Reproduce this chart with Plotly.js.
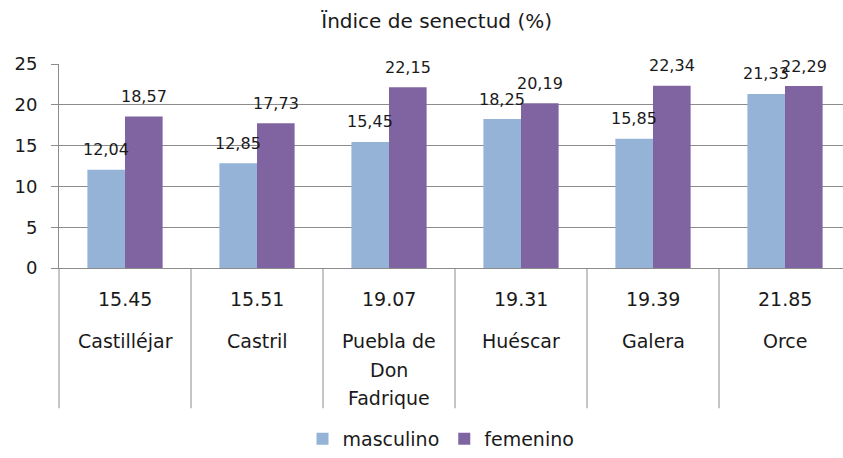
<!DOCTYPE html>
<html>
<head>
<meta charset="utf-8">
<script src="https://cdn.plot.ly/plotly-3.0.1.min.js"></script>
<style>html,body{margin:0;padding:0;background:#fff;overflow:hidden}</style>
</head>
<body>
<div id="chart" style="width:843px;height:458px"></div>
<script>
// ---- data ----
const categories = ["Castilléjar", "Castril", "Puebla de<br>Don<br>Fadrique", "Huéscar", "Galera", "Orce"];
const totals = ["15.45", "15.51", "19.07", "19.31", "19.39", "21.85"];
const masculino = [12.04, 12.85, 15.45, 18.25, 15.85, 21.33];
const femenino = [18.57, 17.73, 22.15, 20.19, 22.34, 22.29];
const seriesNames = ["masculino", "femenino"];
const titleText = "Ïndice de senectud (%)";

// ---- style ----
const FONT = "DejaVu Sans, sans-serif";
const TXT = "#1a1a1a";
const GRID = "#8c8c8c";
const colors = ["#95B3D7", "#8064A2"];
const W = 843, H = 458;
const margin = {l: 59, r: 0, t: 64, b: 186};
const catPx = 132;
const plotW = W - margin.l - margin.r;
const plotH = H - margin.t - margin.b;
const xRange = [-0.5, -0.5 + plotW / catPx];
const bargap = 0.43;
const barW = (1 - bargap) / 2;

const idx = categories.map((_, i) => i);
const keys = categories.map(c => c);

const traces = [masculino, femenino].map((vals, s) => ({
  type: "bar",
  name: seriesNames[s],
  x: keys,
  y: vals,
  marker: {color: colors[s]},
  hoverinfo: "skip"
}));

const fmt = v => v.toFixed(2).replace(".", ",");
const annotations = [];
[masculino, femenino].forEach((vals, s) => {
  vals.forEach((v, i) => {
    annotations.push({
      xref: "x", yref: "y",
      x: i + (s === 0 ? -barW / 2 : barW / 2), y: v,
      text: fmt(v), showarrow: false,
      yanchor: "middle", xanchor: "center", yshift: 20,
      font: {family: FONT, size: 16, color: TXT}
    });
  });
});
// category table below axis
categories.forEach((c, i) => {
  annotations.push({
    xref: "x", yref: "paper", x: i, y: 0, yshift: -31,
    text: totals[i], showarrow: false, yanchor: "middle",
    font: {family: FONT, size: 19, color: TXT}
  });
  c.split("<br>").forEach((line, k) => {
    annotations.push({
      xref: "x", yref: "paper", x: i, y: 0, yshift: -73 - 28.5 * k,
      text: line, showarrow: false, yanchor: "middle",
      font: {family: FONT, size: 19, color: TXT}
    });
  });
});

const span = xRange[1] - xRange[0];
const sepBottom = -(415 - (margin.t + plotH)) / plotH;
const shapes = [];
for (let i = 0; i < categories.length; i++) {
  const xs = (i - 0.5 - xRange[0]) / span;
  shapes.push({
    type: "line", xref: "paper", yref: "paper",
    x0: xs, x1: xs, y0: 0, y1: sepBottom,
    line: {color: GRID, width: 1}
  });
}

const layout = {
  width: W, height: H,
  margin: margin,
  paper_bgcolor: "#fff", plot_bgcolor: "#fff",
  font: {family: FONT, color: TXT},
  title: {
    text: titleText, xref: "container", yref: "container",
    x: 0.518, y: 0.954, xanchor: "center", yanchor: "middle",
    font: {family: FONT, size: 20, color: TXT}
  },
  barmode: "group", bargap: bargap, bargroupgap: 0,
  xaxis: {
    type: "category", range: xRange, showticklabels: false,
    showline: true, linecolor: GRID, linewidth: 1,
    showgrid: false, zeroline: false, ticks: "", fixedrange: true
  },
  yaxis: {
    range: [0, 25], tickvals: [0, 5, 10, 15, 20, 25],
    showgrid: true, gridcolor: GRID, gridwidth: 1,
    showline: true, linecolor: GRID, linewidth: 1,
    ticks: "outside", ticklen: 7, tickcolor: GRID, tickwidth: 1,
    ticklabelstandoff: 10,
    zeroline: false,
    tickfont: {family: FONT, size: 18, color: TXT}, fixedrange: true
  },
  legend: {
    orientation: "h", x: (441 - margin.l) / plotW, y: -(447 - margin.t - plotH) / plotH,
    xanchor: "center", yanchor: "middle",
    font: {family: FONT, size: 19, color: TXT},
    bgcolor: "rgba(0,0,0,0)"
  },
  annotations: annotations,
  shapes: shapes,
  showlegend: true
};

Plotly.newPlot("chart", traces, layout, {displayModeBar: false, staticPlot: true});
</script>
</body>
</html>
